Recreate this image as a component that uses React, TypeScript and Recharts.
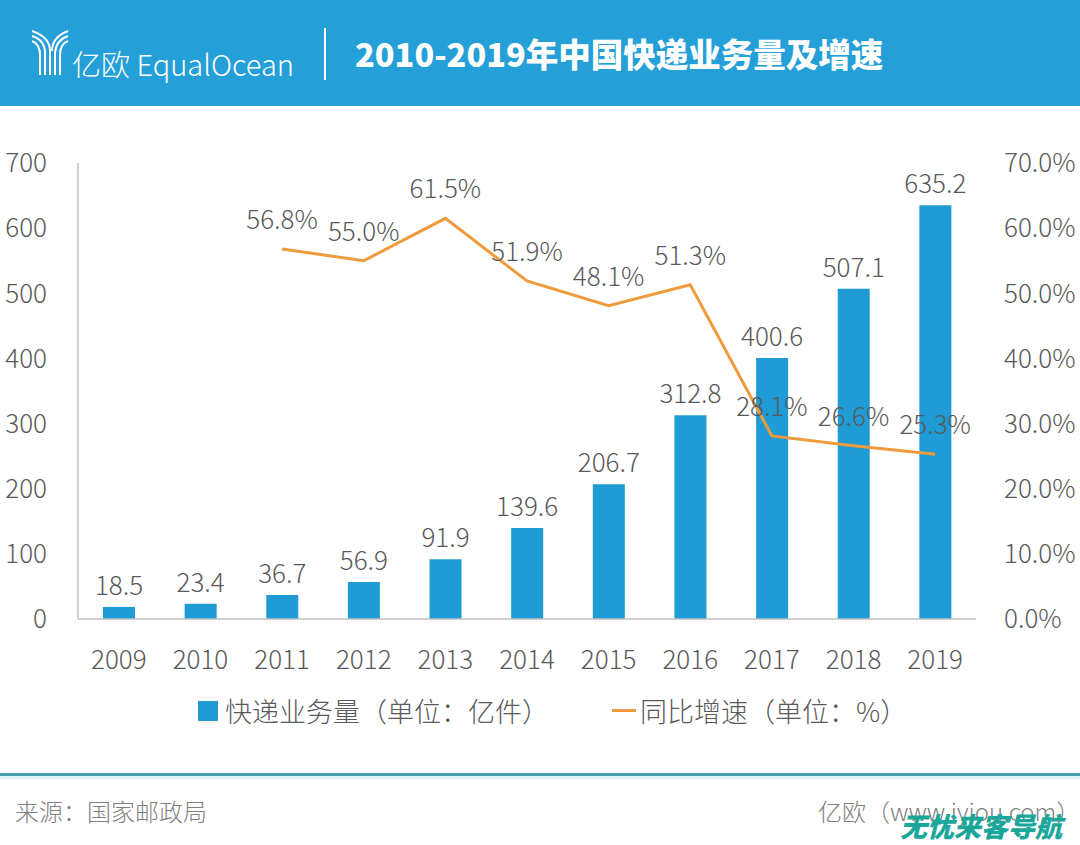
import React from "react";
import { ComposedChart, Bar, Line, XAxis, YAxis, LabelList } from "recharts";

// 2009-2019 快递业务量（亿件）与同比增速（%）
const years = ["2009", "2010", "2011", "2012", "2013", "2014", "2015", "2016", "2017", "2018", "2019"];
const volume = [18.5, 23.4, 36.7, 56.9, 91.9, 139.6, 206.7, 312.8, 400.6, 507.1, 635.2];
const growth: (number | null)[] = [null, null, 56.8, 55.0, 61.5, 51.9, 48.1, 51.3, 28.1, 26.6, 25.3];
const leftTicks = [0, 100, 200, 300, 400, 500, 600, 700];
const rightTicks = [0, 10, 20, 30, 40, 50, 60, 70];

const data = years.map((y, i) => ({ year: y, volume: volume[i], growth: growth[i] }));

const FONT = '"Noto Sans CJK SC", "Noto Sans", sans-serif';
const BLUE = "#1f9bd5";
const ORANGE = "#ef9b3c";
const GRAY = "#595959";
const tickStyle = { fill: GRAY, fontSize: 26, fontFamily: FONT, fontWeight: 300 };

function Logo() {
  return (
    <svg width="40" height="50" viewBox="0 0 40 50">
      <g fill="none" stroke="#fff" strokeWidth="2">
        <path d="M2 4 Q20 10 20 24 V48" />
        <path d="M2 9 Q15 13 15 26 V48" />
        <path d="M2 14 Q10 17 10 28 V48" />
        <path d="M38 4 Q22 10 22 24" />
        <path d="M38 9 Q26 13 25 26 V48" />
        <path d="M38 14 Q30 17 30 28 V48" />
      </g>
    </svg>
  );
}

function LegendBox() {
  return (
    <div style={{ display: "flex", alignItems: "center", fontFamily: FONT, fontWeight: 300, fontSize: 27, color: GRAY }}>
      <span style={{ display: "inline-block", width: 20, height: 20, background: BLUE, marginRight: 7 }} />
      <span>快递业务量（单位：亿件）</span>
      <span style={{ display: "inline-block", width: 24, height: 3, background: ORANGE, marginLeft: 63, marginRight: 4 }} />
      <span>同比增速（单位：%）</span>
    </div>
  );
}

export default function App() {
  return (
    <div style={{ position: "absolute", top: 0, left: 0, width: 1080, height: 845, background: "#fff", overflow: "hidden", fontFamily: FONT }}>
      <div style={{ position: "absolute", top: 0, left: 0, width: 1080, height: 106, background: "#249fd7" }}>
        <div style={{ position: "absolute", left: 30, top: 27 }}>
          <Logo />
        </div>
        <div style={{ position: "absolute", left: 72, top: 42, color: "#fff", fontSize: 29, fontWeight: 300 }}>
          亿欧 EqualOcean
        </div>
        <div style={{ position: "absolute", left: 324, top: 28, width: 2, height: 52, background: "#fff" }} />
        <div style={{ position: "absolute", left: 355, top: 29, color: "#fff", fontSize: 32.5, fontWeight: 900 }}>
          2010-2019年中国快递业务量及增速
        </div>
      </div>

      <div style={{ position: "absolute", top: 0, left: 0 }}>
        <ComposedChart width={1080} height={845} data={data} margin={{ top: 163, right: 0, bottom: 196, left: 0 }}>
          <XAxis
            dataKey="year"
            height={30}
            axisLine={{ stroke: "#bfbfbf", strokeWidth: 1.5 }}
            tickLine={false}
            tickSize={0}
            tickMargin={32}
            tick={tickStyle}
          />
          <YAxis
            yAxisId="left"
            orientation="left"
            width={78}
            domain={[0, 700]}
            ticks={leftTicks}
            axisLine={{ stroke: "#bfbfbf", strokeWidth: 1.5 }}
            tickLine={false}
            tickSize={0}
            tickMargin={31}
            tick={tickStyle}
          />
          <YAxis
            yAxisId="right"
            orientation="right"
            width={104}
            domain={[0, 70]}
            ticks={rightTicks}
            axisLine={false}
            tickLine={false}
            tickSize={0}
            tickMargin={28}
            tickFormatter={(v: number) => `${v.toFixed(1)}%`}
            tick={tickStyle}
          />
          <Bar yAxisId="left" dataKey="volume" fill={BLUE} barSize={32} isAnimationActive={false}>
            <LabelList
              dataKey="volume"
              position="top"
              offset={12}
              formatter={(v: number) => v.toFixed(1)}
              style={tickStyle}
            />
          </Bar>
          <Line
            yAxisId="right"
            dataKey="growth"
            stroke={ORANGE}
            strokeWidth={3}
            dot={false}
            activeDot={false}
            connectNulls={false}
            isAnimationActive={false}
          >
            <LabelList
              dataKey="growth"
              position="top"
              offset={20}
              formatter={(v: number | null) => (v == null ? "" : `${v.toFixed(1)}%`)}
              style={tickStyle}
            />
          </Line>
        </ComposedChart>
      </div>

      <div style={{ position: "absolute", top: 691, left: 198 }}>
        <LegendBox />
      </div>

      <div style={{ position: "absolute", top: 773, left: 0, width: 1080, height: 3, background: "#4b9db4" }} />
      <div style={{ position: "absolute", top: 776, left: 0, width: 1080, height: 3, background: "#dff1f4" }} />
      <div style={{ position: "absolute", top: 793, left: 15, fontSize: 24, fontWeight: 300, color: "#7f7f7f" }}>
        来源：国家邮政局
      </div>
      <div style={{ position: "absolute", top: 793, left: 818, fontSize: 24, fontWeight: 300, color: "#7f7f7f" }}>
        亿欧（www.iyiou.com）
      </div>
      <div style={{ position: "absolute", top: 806, left: 900, fontSize: 27, fontWeight: 900, fontStyle: "italic", color: "#1aa79a" }}>
        无忧来客导航
      </div>
    </div>
  );
}
